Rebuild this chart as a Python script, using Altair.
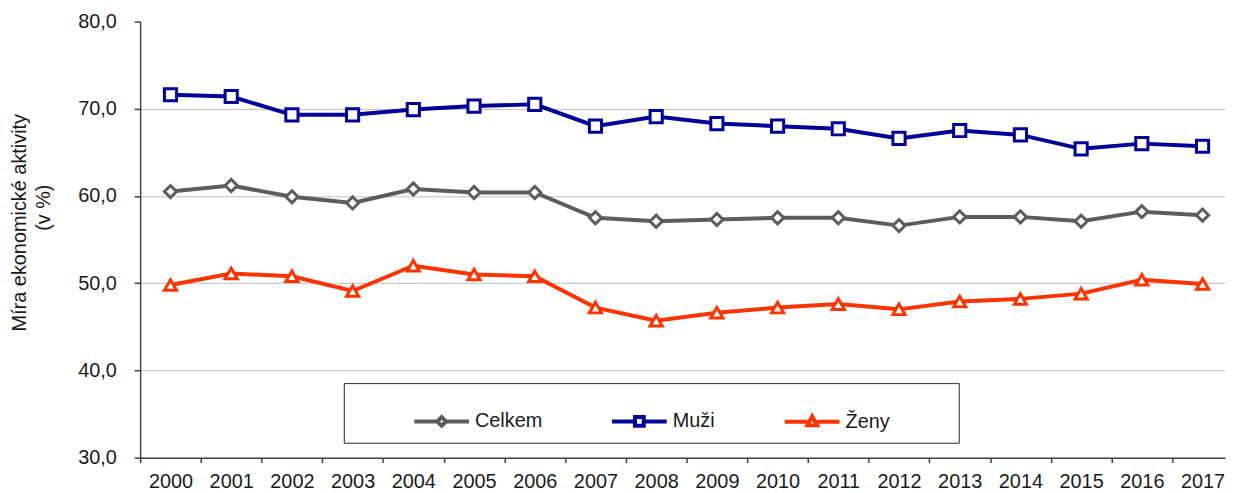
import altair as alt
import pandas as pd

# ---- data ----
years = list(range(2000, 2018))
celkem = [60.5, 61.2, 59.9, 59.2, 60.8, 60.4, 60.4, 57.5, 57.1, 57.3, 57.5, 57.5, 56.6, 57.6, 57.6, 57.1, 58.2, 57.8]
muzi = [71.6, 71.4, 69.3, 69.3, 69.9, 70.3, 70.5, 68.0, 69.1, 68.3, 68.0, 67.7, 66.6, 67.5, 67.0, 65.4, 66.0, 65.7]
zeny = [49.8, 51.1, 50.8, 49.1, 52.0, 51.0, 50.8, 47.2, 45.7, 46.6, 47.2, 47.6, 47.0, 47.9, 48.2, 48.8, 50.4, 49.9]

series_names = ["Celkem", "Muži", "Ženy"]
series_values = [celkem, muzi, zeny]
series_colors = ["#5c5c5c", "#000099", "#ff3300"]
marker_shapes = ["diamond", "square", "triangle-up"]
# legend symbols: a line with a small marker in the middle
legend_paths = [
    "M-1,0H-0.16M0.16,0H1M-0.16,0L0,-0.16L0.16,0L0,0.16Z",
    "M-1,0H-0.16M0.16,0H1M-0.16,-0.16H0.16V0.16H-0.16Z",
    "M-1,0H-0.18M0.18,0H1M-0.18,0.13L0,-0.2L0.18,0.13Z",
]
y_ticks = [30, 40, 50, 60, 70, 80]
x_axis_values = []
for yr in years:
    x_axis_values += [yr - 0.5, yr]

BLANK = "\u2800"  # blank filler that is not trimmed
NBSP = "\u00a0"
y_title = ["Míra ekonomické aktivity", BLANK * 2 + "(v %)"]

rows = []
for name, vals in zip(series_names, series_values):
    for yr, v in zip(years, vals):
        rows.append({"rok": yr, "hodnota": v, "rada": name})
df = pd.DataFrame(rows)

FONT = "Liberation Sans"
TEXT = "#1a1a1a"
AXIS = "#404040"

x_enc = alt.X(
    "rok:Q",
    scale=alt.Scale(domain=[1999.5, 2017.37], nice=False, zero=False),
    axis=alt.Axis(
        values=x_axis_values,
        labelExpr="datum.value % 1 == 0 ? format(datum.value, 'd') : ''",
        tickOpacity={"condition": {"test": "datum.value % 1 == 0", "value": 0}, "value": 1},
        tickSize=5,
        labelPadding=9,
        labelOverlap=False,
        labelFlush=False,
        labelBound=False,
        grid=False,
        title=None,
        orient="bottom",
    ),
)

y_enc = alt.Y(
    "hodnota:Q",
    scale=alt.Scale(domain=[30, 80], nice=False, zero=False),
    axis=alt.Axis(
        values=y_ticks,
        labelExpr="replace(format(datum.value, '.1f'), '.', ',')",
        gridOpacity={"condition": {"test": "datum.value == 80 || datum.value == 30", "value": 0}, "value": 1},
        tickSize=6,
        labelPadding=18,
        title=y_title,
        titleX=-111,
        titleY=202,
        titleAngle=-90,
        titleAlign="center",
        titleBaseline="bottom",
        titleLineHeight=24,
        titleFontSize=20,
        titleFontWeight="normal",
        titleColor=TEXT,
    ),
)

layers = []
# lines, one per series
for name, col in zip(series_names, series_colors):
    layers.append(
        alt.Chart(df)
        .transform_filter(alt.datum.rada == name)
        .mark_line(strokeWidth=4, color=col)
        .encode(x=x_enc, y=y_enc)
    )
# markers, one per series
for name, col, shp in zip(series_names, series_colors, marker_shapes):
    layers.append(
        alt.Chart(df)
        .transform_filter(alt.datum.rada == name)
        .mark_point(shape=shp, filled=False, fill="white", stroke=col, size=150, strokeWidth=3, opacity=1)
        .encode(x=x_enc, y=y_enc)
    )

leg = alt.Legend(
    orient="none",
    legendX=205,
    legendY=364,
    direction="horizontal",
    title=NBSP,
    titleOrient="left",
    titleFontSize=20,
    titlePadding=60,
    padding=9,
    strokeColor="#262626",
    symbolSize=3025,
    symbolStrokeWidth=4,
    symbolFillColor="white",
    symbolOpacity=1,
    labelFontSize=20,
    labelColor=TEXT,
    labelFont=FONT,
    labelOffset=4,
    labelLimit=300,
    columnPadding=62,
    labelExpr="datum.label == 'Ženy' ? datum.label + '" + BLANK * 4 + "' : datum.label",
)

# invisible layer that only supplies the legend
legend_layer = alt.Chart(df).mark_point(filled=False, fill="white", opacity=0).encode(
    x=x_enc,
    y=y_enc,
    color=alt.Color("rada:N", scale=alt.Scale(domain=series_names, range=series_colors), legend=leg),
    shape=alt.Shape("rada:N", scale=alt.Scale(domain=series_names, range=legend_paths), legend=leg),
)
layers.append(legend_layer)

chart = (
    alt.layer(*layers)
    .properties(
        width=1092,
        height=439,
        padding={"left": 133, "top": 12, "right": 2, "bottom": 33},
        autosize=alt.AutoSizeParams(type="none"),
    )
    .configure(font=FONT)
    .configure_view(stroke=None)
    .configure_axis(
        labelFont=FONT,
        labelFontSize=20,
        labelColor=TEXT,
        titleFont=FONT,
        domainColor=AXIS,
        domainWidth=1.5,
        tickColor=AXIS,
        tickWidth=1.5,
        gridColor="#bdbdbd",
        gridWidth=1,
    )
)

chart.save("out.html", embed_options={"renderer": "svg", "actions": False})
